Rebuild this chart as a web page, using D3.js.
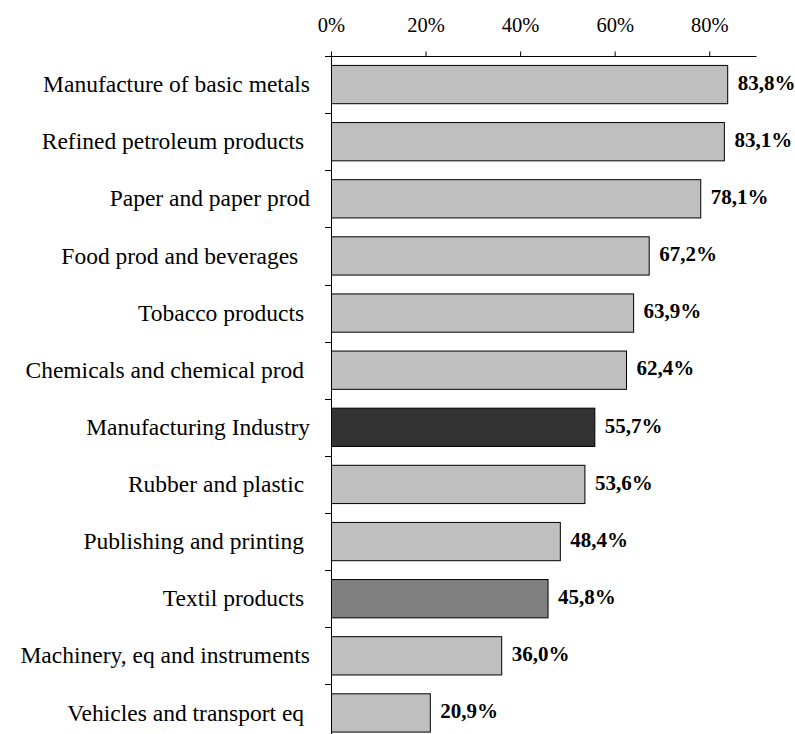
<!DOCTYPE html>
<html><head><meta charset="utf-8">
<script src="https://cdn.jsdelivr.net/npm/d3@7"></script>
<style>
html,body{margin:0;padding:0;background:#fff;}
svg{display:block;}
text{font-family:"Liberation Serif","Times New Roman",serif;fill:#000;}
</style></head>
<body>
<svg id="chart" width="795" height="734"></svg>
<script>
const categories = [
  "Manufacture of basic metals",
  "Refined petroleum products ",
  "Paper and paper prod",
  "Food prod and beverages  ",
  "Tobacco products ",
  "Chemicals and chemical prod ",
  "Manufacturing Industry",
  "Rubber and plastic ",
  "Publishing and printing ",
  "Textil products ",
  "Machinery, eq and instruments",
  "Vehicles and transport eq "
];
const values = [83.8, 83.1, 78.1, 67.2, 63.9, 62.4, 55.7, 53.6, 48.4, 45.8, 36.0, 20.9];
const valueLabels = ["83,8%","83,1%","78,1%","67,2%","63,9%","62,4%","55,7%","53,6%","48,4%","45,8%","36,0%","20,9%"];
const barColors = ["#bfbfbf","#bfbfbf","#bfbfbf","#bfbfbf","#bfbfbf","#bfbfbf","#333333","#bfbfbf","#bfbfbf","#808080","#bfbfbf","#bfbfbf"];
const xTicks = [0, 20, 40, 60, 80];

const svg = d3.select("#chart");
const x = d3.scaleLinear().domain([0, 90]).range([331, 756.5]);
const y = d3.scaleBand().domain(categories).range([56, 741.5]).paddingInner(0.33).paddingOuter(0.165);

// top axis
const xAxis = d3.axisTop(x).tickValues(xTicks).tickFormat(d => d + "%").tickSize(5).tickPadding(20);
const gx = svg.append("g").attr("transform", "translate(0,56.5)").call(xAxis);
gx.select(".domain").attr("d", `M325,0H${x(90)}`).attr("stroke", "#000");
gx.selectAll("text").attr("font-size", 20.5).attr("font-family", "Liberation Serif").attr("fill", "#000").attr("dy", 0);

// left axis
const yAxis = d3.axisLeft(y).tickSize(0).tickFormat("");
const gy = svg.append("g").attr("transform", "translate(331.5,0)").call(yAxis);
gy.select(".domain").attr("d", "M0,56V741").attr("stroke", "#000");
const bounds = categories.map(c => y(c) - y.step() * y.paddingInner() / 2);
svg.append("g").selectAll("line").data(bounds).join("line")
  .attr("x1", 325).attr("x2", 331.5)
  .attr("y1", d => Math.round(d) + 0.5).attr("y2", d => Math.round(d) + 0.5)
  .attr("stroke", "#000");

// bars
svg.append("g").selectAll("rect").data(categories).join("rect")
  .attr("x", x(0) + 0.5)
  .attr("y", d => y(d))
  .attr("width", (d, i) => x(values[i]) - x(0))
  .attr("height", y.bandwidth())
  .attr("fill", (d, i) => barColors[i])
  .attr("stroke", "#000").attr("stroke-width", 1);

// category labels
svg.append("g").selectAll("text").data(categories).join("text")
  .attr("x", 310).attr("y", d => y(d) + y.bandwidth() / 2 + 7.6)
  .attr("text-anchor", "end")
  .attr("font-size", 23.5).style("white-space", "pre")
  .text(d => d);

// value labels
svg.append("g").selectAll("text").data(categories).join("text")
  .attr("x", (d, i) => x(values[i]) + 10.5).attr("y", d => y(d) + y.bandwidth() / 2 + 5.3)
  .attr("font-size", 21).attr("font-weight", "bold")
  .text((d, i) => valueLabels[i]);
</script>
</body></html>
